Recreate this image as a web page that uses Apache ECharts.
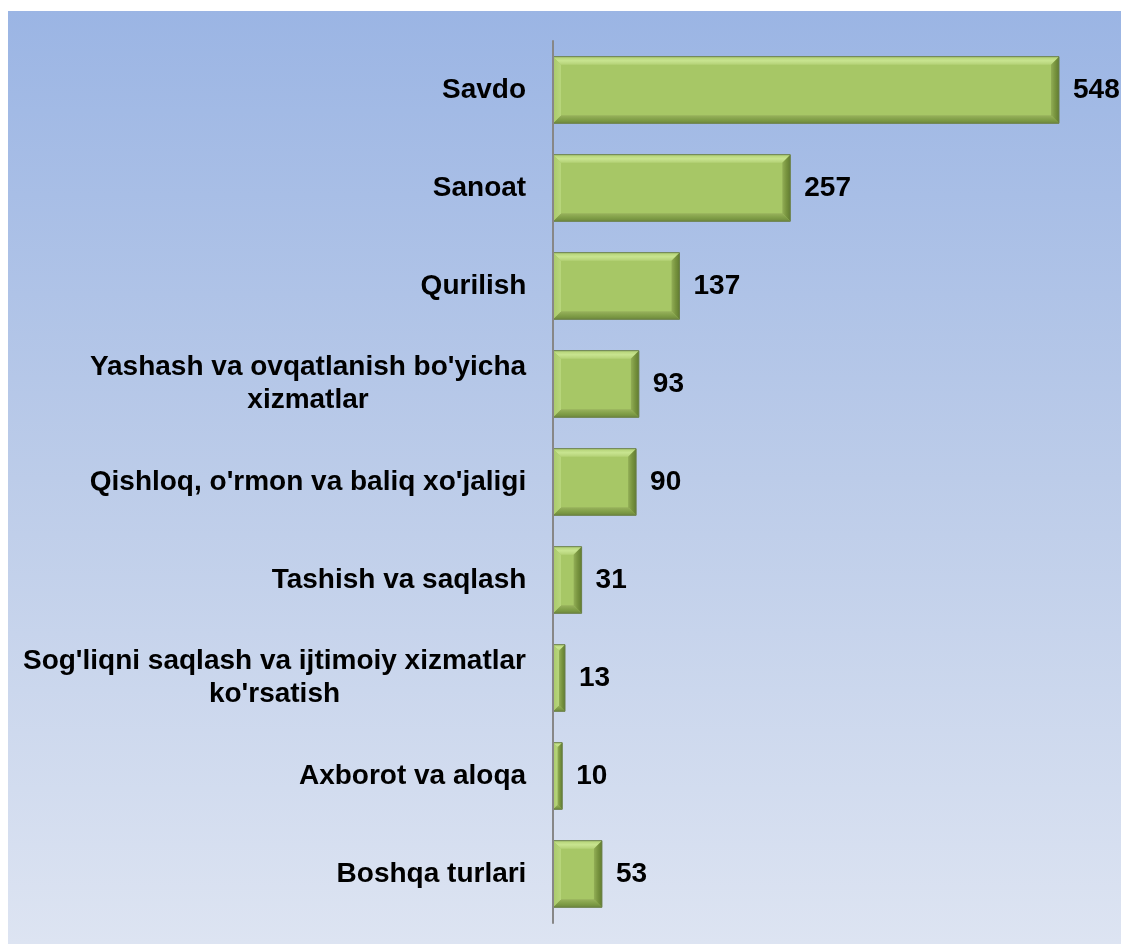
<!DOCTYPE html>
<html>
<head>
<meta charset="utf-8">
<script src="https://cdn.jsdelivr.net/npm/echarts@6/dist/echarts.min.js"></script>
<style>
  html, body { margin: 0; padding: 0; background: #fff; }
  #chart { width: 1121px; height: 946px; }
</style>
</head>
<body>
<div id="chart"></div>
<script>
// kategoriyalar (yuqoridan pastga)
const categories = [
  'Savdo',
  'Sanoat',
  'Qurilish',
  "Yashash va ovqatlanish bo'yicha\nxizmatlar",
  "Qishloq, o'rmon va baliq xo'jaligi",
  'Tashish va saqlash',
  "Sog'liqni saqlash va ijtimoiy xizmatlar\nko'rsatish",
  'Axborot va aloqa',
  'Boshqa turlari'
];
const values = [548, 257, 137, 93, 90, 31, 13, 10, 53];

const FAMILY = 'Liberation Sans, Arial, sans-serif';
const FS = 28;
const GAP = 0.32; // barCategoryGap

// ikki qatorli yozuvlarni markazlash uchun kenglikni o'lchaymiz
const cv = document.createElement('canvas').getContext('2d');
cv.font = 'bold ' + FS + 'px ' + FAMILY;
const rich = {};
categories.forEach((c, i) => {
  const w = Math.max(...c.split('\n').map(s => cv.measureText(s).width));
  rich['r' + i] = {
    width: Math.ceil(w) + 1,
    align: 'center',
    fontSize: FS,
    fontWeight: 'bold',
    fontFamily: FAMILY,
    color: '#000',
    lineHeight: 33
  };
});

const lg = (x2, y2, stops) => new echarts.graphic.LinearGradient(0, 0, x2, y2,
  stops.map((c, i) => ({ offset: i / (stops.length - 1), color: c })));

// ustunlarning qirralari (bevel)
function renderBevel(params, api) {
  const p0 = api.coord([0, api.value(1)]);
  const p1 = api.coord([api.value(0), api.value(1)]);
  const h = api.size([0, 1])[1] * (1 - GAP);
  const x0 = p0[0], x1 = p1[0], y0 = p0[1] - h / 2, y1 = p0[1] + h / 2;
  const b = Math.min(8, (x1 - x0) / 2);
  const poly = (pts, fill) => ({ type: 'polygon', shape: { points: pts }, style: { fill: fill }, silent: true });
  return {
    type: 'group',
    children: [
      poly([[x0, y0], [x1, y0], [x1 - b, y0 + b], [x0 + b, y0 + b]], lg(0, 1, ['#b2d174', '#c8e490', '#b4d276'])),
      poly([[x0, y1], [x1, y1], [x1 - b, y1 - b], [x0 + b, y1 - b]], lg(0, 1, ['#98b25c', '#82a049', '#6e893c'])),
      poly([[x0, y0], [x0 + b, y0 + b], [x0 + b, y1 - b], [x0, y1]], lg(1, 0, ['#a9c96b', '#b8d67c'])),
      poly([[x1, y0], [x1 - b, y0 + b], [x1 - b, y1 - b], [x1, y1]], lg(1, 0, ['#92ae56', '#78943f', '#627d31'])),
      { type: 'rect', shape: { x: x0, y: y0, width: x1 - x0, height: y1 - y0 },
        style: { fill: null, stroke: '#6a7f4a', lineWidth: 1 }, silent: true }
    ]
  };
}

var myChart = echarts.init(document.getElementById('chart'));
myChart.setOption({
  animation: false,
  graphic: [{
    type: 'rect',
    z: -10,
    shape: { x: 8, y: 11, width: 1113, height: 933 },
    style: {
      fill: lg(0, 1, ['#9bb5e4', '#bccce9', '#dde4f2'])
    }
  }],
  grid: { left: 553, right: 14, top: 41, bottom: 23 },
  xAxis: {
    type: 'value',
    min: 0,
    max: 600,
    show: false
  },
  yAxis: {
    type: 'category',
    inverse: true,
    data: categories,
    z: 10,
    axisTick: { show: false },
    axisLine: { lineStyle: { color: '#878787', width: 2 } },
    axisLabel: {
      margin: 26,
      formatter: (val, idx) => val.split('\n').map(s => '{r' + idx + '|' + s + '}').join('\n'),
      rich: rich
    }
  },
  series: [{
    type: 'bar',
    data: values,
    barCategoryGap: (GAP * 100) + '%',
    itemStyle: { color: '#a7c766' },
    label: {
      show: true,
      position: 'right',
      distance: 14,
      fontSize: FS,
      fontWeight: 'bold',
      fontFamily: FAMILY,
      color: '#000'
    }
  }, {
    type: 'custom',
    z: 3,
    renderItem: renderBevel,
    encode: { x: 0, y: 1 },
    data: values.map((v, i) => [v, i])
  }]
});
</script>
</body>
</html>
